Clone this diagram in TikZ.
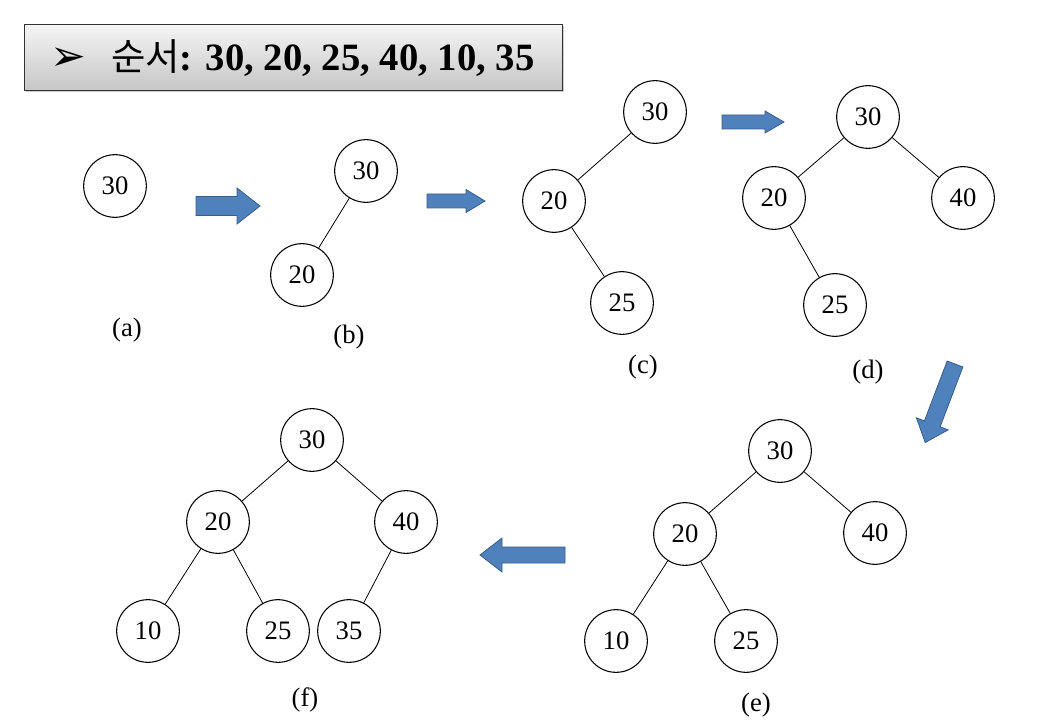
\documentclass[tikz,border=0pt]{standalone}
\usepackage{fontspec}
\setmainfont{Liberation Serif}
\newfontfamily\cjk{Noto Sans CJK KR}
\newfontfamily\dejavu{DejaVu Sans}
\usetikzlibrary{shadows}
\definecolor{arrowblue}{HTML}{4F81BD}
\definecolor{arrowedge}{HTML}{385D8A}
\tikzset{
  tn/.style={circle,draw,thick,minimum size=47pt,inner sep=0pt,font=\fontsize{20}{22}\selectfont},
  lbl/.style={font=\fontsize{20}{22}\selectfont},
  edge/.style={draw,semithick},
  barrowstyle/.style={fill=arrowblue,draw=arrowedge,line width=0.6pt,line join=miter},
  pics/barrow/.style n args={4}{code={
    % #1 total length, #2 body half, #3 head half, #4 head length
    \path[barrowstyle] (0,-#2) -- ({#1-#4},-#2) -- ({#1-#4},-#3) -- (#1,0) -- ({#1-#4},#3) -- ({#1-#4},#2) -- (0,#2) -- cycle;
  }}
}
\begin{document}
\begin{tikzpicture}[x=0.75pt,y=-0.75pt]
\useasboundingbox (0,0) rectangle (1062,720);
% title
\node[draw=black!80,line width=1pt,top color=gray!8,bottom color=gray!45,minimum width=403.5pt,minimum height=49.5pt,anchor=north west,drop shadow={shadow xshift=1pt,shadow yshift=-1pt,opacity=0.4}] (title) at (24,24) {};
\node[anchor=center,font=\dejavu\fontsize{32}{34}\selectfont] (bullet) at (68,59) {➢};
\node[anchor=west,inner sep=0pt] (ttext) at (111,58) {{\cjk\fontsize{28}{30}\selectfont 순서}{\bfseries\fontsize{29}{31}\selectfont: 30, 20, 25, 40, 10, 35}};
% (a)
\node[tn] (a30) at (115,186) {30};
\node[lbl] (la) at (127,330) {(a)};
% (b)
\node[tn] (b30) at (366,171) {30};
\node[tn] (b20) at (302,275) {20};
\draw[edge] (b30) -- (b20);
\node[lbl] (lb) at (349,337) {(b)};
% (c)
\node[tn] (c30) at (655,112) {30};
\node[tn] (c20) at (554,201) {20};
\node[tn] (c25) at (622,303) {25};
\draw[edge] (c30) -- (c20);
\draw[edge] (c20) -- (c25);
\node[lbl] (lc) at (643,367) {(c)};
% (d)
\node[tn] (d30) at (868,117) {30};
\node[tn] (d20) at (774,198) {20};
\node[tn] (d40) at (963,198) {40};
\node[tn] (d25) at (835,305) {25};
\draw[edge] (d30) -- (d20);
\draw[edge] (d30) -- (d40);
\draw[edge] (d20) -- (d25);
\node[lbl] (ld) at (868,372) {(d)};
% (e)
\node[tn] (e30) at (780,451) {30};
\node[tn] (e20) at (685,534) {20};
\node[tn] (e40) at (875,533) {40};
\node[tn] (e10) at (616,641) {10};
\node[tn] (e25) at (746,641) {25};
\draw[edge] (e30) -- (e20);
\draw[edge] (e30) -- (e40);
\draw[edge] (e20) -- (e10);
\draw[edge] (e20) -- (e25);
\node[lbl] (le) at (756,705) {(e)};
% (f)
\node[tn] (f30) at (312,440) {30};
\node[tn] (f20) at (218,522) {20};
\node[tn] (f40) at (406,522) {40};
\node[tn] (f10) at (148,631) {10};
\node[tn] (f25) at (278,631) {25};
\node[tn] (f35) at (349,631) {35};
\draw[edge] (f30) -- (f20);
\draw[edge] (f30) -- (f40);
\draw[edge] (f20) -- (f10);
\draw[edge] (f20) -- (f25);
\draw[edge] (f40) -- (f35);
\node[lbl] (lf) at (305,700) {(f)};
% block arrows
\pic at (196,206) {barrow={64}{9.5}{18}{23}};
\pic at (427,201) {barrow={58}{7}{11.5}{19}};
\pic at (722,122) {barrow={62}{7}{11}{19}};
\pic[rotate=-110.8] at (955,364) {barrow={84}{8.4}{17}{20}};
\pic[rotate=180] at (565,555) {barrow={85}{8}{17}{22}};
\end{tikzpicture}
\end{document}
